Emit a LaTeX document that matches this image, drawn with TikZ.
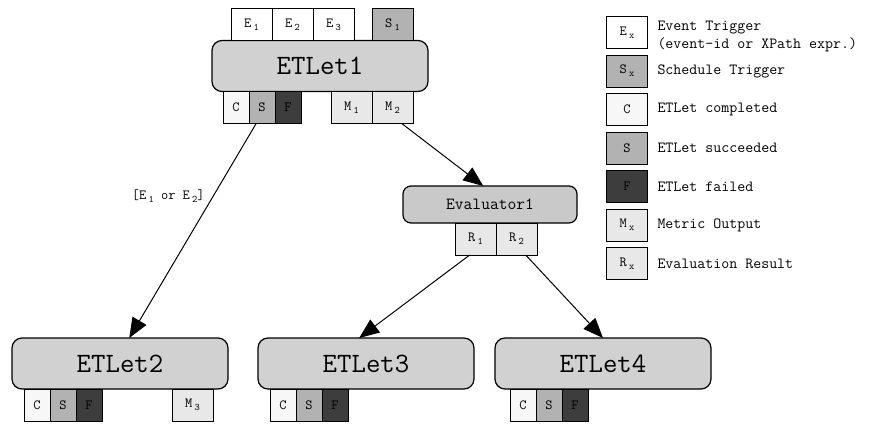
\documentclass[tikz,border=0pt]{standalone}
\usepackage{fontspec}
\usetikzlibrary{arrows.meta,positioning,calc}

\definecolor{boxgray}{gray}{0.82}
\definecolor{evgray}{gray}{0.79}
\definecolor{sgray}{gray}{0.70}
\definecolor{fgray}{gray}{0.24}
\definecolor{cgray}{gray}{0.97}
\definecolor{mgray}{gray}{0.91}

\newcommand{\tsub}[2]{#1\,\raisebox{-0.5ex}{\fontsize{10}{10}\selectfont #2}}

\begin{document}
\begin{tikzpicture}[x=1pt, y=-1pt,
        font=\ttfamily,
        node distance=0pt,
        every node/.style={outer sep=0pt},
        etlet/.style={rectangle, rounded corners=10pt,
          draw=black, line width=1.2pt, fill=boxgray,
          minimum width=216pt, minimum height=51pt,
          font=\ttfamily\fontsize{28}{28}\selectfont},
        evbox/.style={rectangle, rounded corners=8pt,
          draw=black, line width=1.2pt, fill=evgray,
          minimum width=174pt, minimum height=37pt,
          font=\ttfamily\fontsize{17}{17}\selectfont},
        wtab/.style={rectangle, draw=black, line width=1pt,
          minimum width=41pt, minimum height=32pt, inner sep=0pt,
          font=\ttfamily\fontsize{14}{14}\selectfont},
        ntab/.style={wtab, minimum width=26pt},
        legtxt/.style={font=\ttfamily\fontsize{15.5}{18}\selectfont, align=left, inner sep=0pt},
        flow/.style={-{Triangle[length=20pt,width=16pt]}, line width=1pt}
      ]
        \useasboundingbox (0,0) rectangle (869,423);

        % ETLet1 with its triggers and outputs
        \node[etlet] (et1) at (320,66) {ETLet1};
        \node[wtab, fill=white, anchor=south west] (e1) at ($(et1.north west)+(19,0)$) {\tsub{E}{1}};
        \node[wtab, fill=white, right=of e1] (e2) {\tsub{E}{2}};
        \node[wtab, fill=white, right=of e2] (e3) {\tsub{E}{3}};
        \node[wtab, fill=sgray, anchor=south west] (s1) at ($(et1.north west)+(160,0)$) {\tsub{S}{1}};
        \node[ntab, fill=cgray, anchor=north west] (c1) at ($(et1.south west)+(11,0)$) {C};
        \node[ntab, fill=sgray, right=of c1] (su1) {S};
        \node[ntab, fill=fgray, right=of su1] (f1) {F};
        \node[wtab, fill=mgray, anchor=north west] (m1) at ($(et1.south west)+(119,0)$) {\tsub{M}{1}};
        \node[wtab, fill=mgray, right=of m1] (m2) {\tsub{M}{2}};

        % Evaluator1
        \node[evbox] (ev1) at (490,204.5) {Evaluator1};
        \node[wtab, fill=mgray, anchor=north west] (r1) at ($(ev1.south west)+(52,0)$) {\tsub{R}{1}};
        \node[wtab, fill=mgray, right=of r1] (r2) {\tsub{R}{2}};

        % ETLet2
        \node[etlet] (et2) at (120,363.5) {ETLet2};
        \node[ntab, fill=cgray, anchor=north west] (c2) at ($(et2.south west)+(12,0)$) {C};
        \node[ntab, fill=sgray, right=of c2] (su2) {S};
        \node[ntab, fill=fgray, right=of su2] (f2) {F};
        \node[wtab, fill=mgray, anchor=north west] (m3) at ($(et2.south west)+(160,0)$) {\tsub{M}{3}};

        % ETLet3
        \node[etlet] (et3) at (366,363.5) {ETLet3};
        \node[ntab, fill=cgray, anchor=north west] (c3) at ($(et3.south west)+(12,0)$) {C};
        \node[ntab, fill=sgray, right=of c3] (su3) {S};
        \node[ntab, fill=fgray, right=of su3] (f3) {F};

        % ETLet4
        \node[etlet] (et4) at (603,363.5) {ETLet4};
        \node[ntab, fill=cgray, anchor=north west] (c4) at ($(et4.south west)+(15,0)$) {C};
        \node[ntab, fill=sgray, right=of c4] (su4) {S};
        \node[ntab, fill=fgray, right=of su4] (f4) {F};

        % connectors
        \draw[flow] (su1.-110) -- node[pos=0.34, left=5pt, font=\ttfamily\fontsize{14}{14}\selectfont] (cond) {[\tsub{E}{1} or \tsub{E}{2}]} (et2.70);
        \draw[flow] (m2.-60) -- (ev1.110);
        \draw[flow] (r1.-110) -- (et3.105);
        \draw[flow] (r2.-60) -- (et4.north);

        % legend
        \node[wtab, fill=white] (lge) at (627,32.5) {\tsub{E}{x}};
        \node[wtab, fill=sgray, below=6.5pt of lge] (lgs) {\tsub{S}{x}};
        \node[wtab, fill=cgray, below=6.5pt of lgs] (lgc) {C};
        \node[wtab, fill=sgray, below=6.5pt of lgc] (lgsu) {S};
        \node[wtab, fill=fgray, below=6.5pt of lgsu] (lgf) {F};
        \node[wtab, fill=mgray, below=6.5pt of lgf] (lgm) {\tsub{M}{x}};
        \node[wtab, fill=mgray, below=6.5pt of lgm] (lgr) {\tsub{R}{x}};
        \node[legtxt, anchor=west] (lte) at ($(lge.east)+(10,4)$) {Event Trigger\\(event-id or XPath expr.)};
        \node[legtxt, right=10pt of lgs] (lts) {Schedule Trigger};
        \node[legtxt, right=10pt of lgc] (ltc) {ETLet completed};
        \node[legtxt, right=10pt of lgsu] (ltsu) {ETLet succeeded};
        \node[legtxt, right=10pt of lgf] (ltf) {ETLet failed};
        \node[legtxt, right=10pt of lgm] (ltm) {Metric Output};
        \node[legtxt, right=10pt of lgr] (ltr) {Evaluation Result};
      \end{tikzpicture}
\end{document}
